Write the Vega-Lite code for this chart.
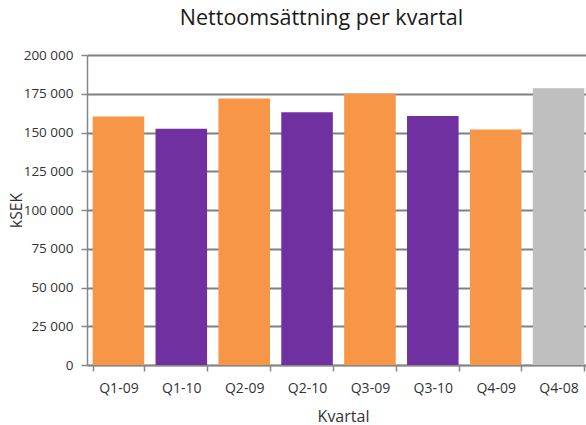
{
  "$schema": "https://vega.github.io/schema/vega-lite/v6.json",
  "autosize": {"type": "none"},
  "width": 499,
  "height": 310,
  "padding": {"left": 87, "top": 55, "right": 0, "bottom": 60},
  "background": "white",
  "title": {
    "text": "Nettoomsättning per kvartal",
    "font": "Open Sans",
    "fontSize": 21.5,
    "fontWeight": "normal",
    "color": "#1a1a1a",
    "anchor": "middle",
    "dx": -15,
    "offset": 19
  },
  "config": {
    "view": {"stroke": null},
    "font": "Open Sans"
  },
  "data": {
    "values": [
      {"kvartal": "Q1-09", "kSEK": 160300, "grupp": "2009"},
      {"kvartal": "Q1-10", "kSEK": 152400, "grupp": "2010"},
      {"kvartal": "Q2-09", "kSEK": 172000, "grupp": "2009"},
      {"kvartal": "Q2-10", "kSEK": 163000, "grupp": "2010"},
      {"kvartal": "Q3-09", "kSEK": 175000, "grupp": "2009"},
      {"kvartal": "Q3-10", "kSEK": 160600, "grupp": "2010"},
      {"kvartal": "Q4-09", "kSEK": 152000, "grupp": "2009"},
      {"kvartal": "Q4-08", "kSEK": 178500, "grupp": "2008"}
    ]
  },
  "mark": {"type": "bar"},
  "encoding": {
    "x": {
      "field": "kvartal",
      "type": "nominal",
      "sort": null,
      "scale": {"range": [0, 503], "paddingInner": 0.18, "paddingOuter": 0.09},
      "axis": {
        "title": "Kvartal",
        "titleFontSize": 16,
        "titleFontWeight": "normal",
        "titleColor": "#333333",
        "titlePadding": 13,
        "titleX": 256,
        "labelAngle": 0,
        "labelFontSize": 14,
        "labelColor": "#333333",
        "labelPadding": 10,
        "domainColor": "#868686",
        "domainWidth": 1.5,
        "tickColor": "#868686",
        "tickWidth": 1.5,
        "tickSize": 6,
        "tickBand": "extent",
        "grid": false
      }
    },
    "y": {
      "field": "kSEK",
      "type": "quantitative",
      "scale": {"domain": [0, 200000], "nice": false},
      "axis": {
        "title": "kSEK",
        "titleFontSize": 15.5,
        "titleFontWeight": "normal",
        "titleColor": "#333333",
        "titleX": -71,
        "titleY": 155,
        "titleAlign": "center",
        "titleBaseline": "middle",
        "values": [0, 25000, 50000, 75000, 100000, 125000, 150000, 175000, 200000],
        "format": ",d",
        "formatType": "number",
        "labelExpr": "replace(datum.label, ',', ' ')",
        "labelFontSize": 13.5,
        "labelColor": "#333333",
        "labelPadding": 8,
        "domainColor": "#868686",
        "domainWidth": 1.5,
        "tickColor": "#868686",
        "tickWidth": 1.5,
        "tickSize": 6,
        "gridColor": "#808080",
        "gridWidth": 2
      }
    },
    "color": {
      "field": "grupp",
      "type": "nominal",
      "scale": {"domain": ["2009", "2010", "2008"], "range": ["#F79646", "#7030A0", "#BFBFBF"]},
      "legend": null
    }
  }
}
